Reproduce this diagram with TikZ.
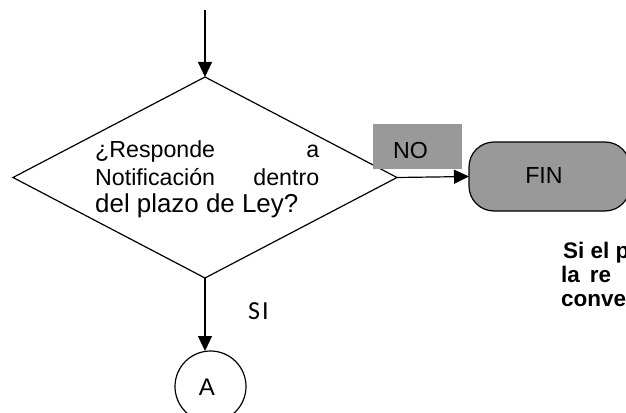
\documentclass[tikz,border=0pt]{standalone}
\usepackage{fontspec}
\setmainfont{Liberation Sans}
\newfontfamily\calfont{Carlito}
\usetikzlibrary{shapes.geometric,arrows.meta}
\definecolor{boxgray}{HTML}{999999}
\tikzset{
  line/.style={line width=1.2pt},
  arr/.style={line, -{Triangle[length=15pt,width=14pt]}},
  lbl/.style={anchor=base west, inner sep=0pt},
  qfont/.style={font=\fontsize{23.2}{28}\selectfont},
}
\begin{document}
\begin{tikzpicture}[x=1pt,y=-1pt]
\useasboundingbox (0,0) rectangle (626,412);
\clip (0,0) rectangle (626,412);
% decision
\node[diamond, draw, line, minimum width=384pt, minimum height=201pt, inner sep=0pt, outer sep=0pt] (d) at (205,177.5) {};
\coordinate (top) at (205,10);
\draw[arr] (top) -- (d.north);
% question text
\node[lbl, qfont] (q1) at (95,157) {\makebox[224pt][s]{¿Responde\hfill a}};
\node[lbl, qfont] (q2) at (95,185) {\makebox[224pt][s]{Notificación\hfill dentro}};
\node[lbl, font=\fontsize{25.9}{30}\selectfont] (q3) at (95,212) {del plazo de Ley?};
% NO label
\node[fill=boxgray, minimum width=89pt, minimum height=45pt, inner sep=0pt] (nobox) at (417.5,146.5) {};
\node[lbl, qfont] (nolbl) at (393,158) {NO};
% FIN terminal
\node[draw, line, fill=boxgray, rounded corners=25pt, minimum width=161pt, minimum height=69pt, inner sep=0pt, outer sep=0pt] (fin) at (549.5,176.5) {};
\node[anchor=base, inner sep=0pt, qfont] (finlbl) at (544,183) {FIN};
\draw[arr] (d.east) -- (fin.west);
% connector A
\node[circle, draw, line, minimum size=71pt, inner sep=0pt, outer sep=0pt] (a) at (210.5,386.5) {};
\node[anchor=base, inner sep=0pt, font=\fontsize{24}{28}\selectfont] (alab) at (207,395) {A};
\draw[arr] (d.south) -- (d.south |- a.north);
% SI label
\node[lbl, font=\calfont\fontsize{26}{30}\selectfont] (si) at (248,319) {S\kern2pt I};
% bold note (cut by the edge)
\node[lbl, font=\bfseries\fontsize{22.5}{25}\selectfont] (n1) at (563,258) {Si el p};
\node[lbl, font=\bfseries\fontsize{22.5}{25}\selectfont] (n2) at (561,282) {la\hspace{10pt}re};
\node[lbl, font=\bfseries\fontsize{22.5}{25}\selectfont] (n3) at (561,306) {conve};
\end{tikzpicture}
\end{document}
